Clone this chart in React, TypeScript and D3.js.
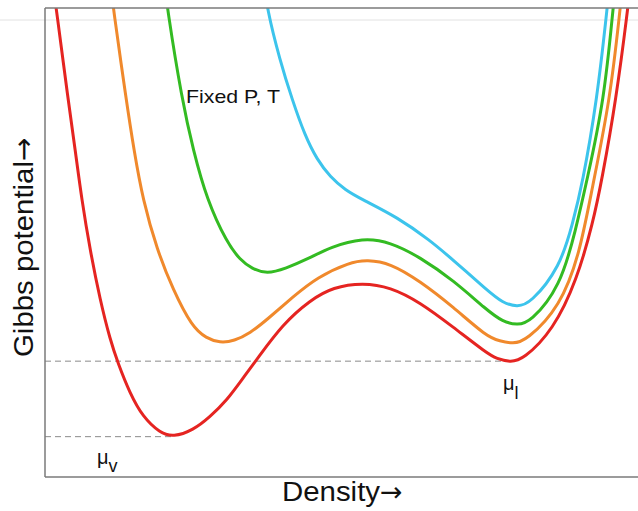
import * as d3 from 'd3';

// Gibbs potential vs density, arbitrary units (0-100 on both axes)
const redX = [1.2, 1.9, 3.9, 5.1, 6.2, 7.6, 9.3, 11.0, 12.3, 14.3, 16.5, 19.4, 21.6, 25.0, 27.8, 30.7, 33.4, 35.9, 40.1, 44.7, 48.6, 53.6, 58.2, 63.2, 68.8, 74.5, 76.2, 78.4, 80.6, 85.7, 89.7, 92.4, 93.9, 96.3, 98.3, 98.8];
const redY = [106, 100, 80.4, 69.7, 59.1, 48.4, 37.7, 29.2, 24.3, 17.9, 12.8, 9.4, 8.5, 10.0, 12.8, 16.4, 21.1, 25.4, 32.6, 37.7, 40.5, 41.4, 40.5, 37.3, 32.0, 26.4, 25.2, 24.5, 25.0, 31.3, 42.0, 54.2, 63.3, 80.4, 100, 106];

const orangeX = [11.0, 11.5, 13.7, 15.0, 16.5, 18.9, 21.6, 24.8, 27.2, 29.5, 31.9, 34.6, 37.4, 41.8, 45.9, 51.4, 54.3, 58.2, 63.2, 68.8, 74.5, 76.7, 78.9, 81.1, 86.9, 90.2, 92.2, 95.3, 97.0, 97.5];
const orangeY = [106, 100, 80.4, 69.7, 59.1, 48.4, 39.9, 32.0, 29.6, 28.6, 29.0, 30.7, 33.5, 38.4, 42.6, 45.8, 46.3, 45.6, 41.8, 36.3, 29.9, 29.0, 28.4, 29.0, 36.3, 47.8, 61.2, 80.4, 100, 106];

const greenX = [20.1, 20.6, 23.1, 25.0, 27.3, 30.7, 32.9, 34.9, 37.4, 40.5, 44.7, 48.1, 53.6, 58.2, 63.2, 68.8, 74.5, 77.2, 79.6, 81.8, 86.9, 89.5, 91.4, 94.3, 95.8, 96.3];
const greenY = [106, 100, 80.4, 69.7, 59.1, 49.9, 46.3, 44.4, 43.3, 44.4, 46.7, 49.0, 51.0, 50.1, 46.9, 42.0, 35.6, 33.1, 32.4, 32.9, 40.5, 52.7, 63.3, 80.4, 100, 106];

const blueX = [36.9, 37.4, 39.6, 41.7, 43.8, 45.9, 48.1, 50.6, 53.6, 59.4, 64.9, 68.8, 74.5, 77.2, 79.6, 81.8, 86.9, 89.0, 90.6, 93.1, 94.8, 95.3];
const blueY = [106, 100, 88.9, 80.4, 72.9, 67.6, 64.0, 61.2, 59.1, 55.4, 50.5, 46.3, 39.9, 37.1, 36.3, 36.9, 44.8, 54.2, 62.3, 80.4, 100, 106];

const seriesNames = ['red', 'orange', 'green', 'blue'];
const seriesColors = ['#e52421', '#f0892c', '#33bb22', '#3cc4ec'];

// chemical potentials of vapour and liquid (levels of the red minima)
const muV = 8.6;
const muVx = 21.6;
const muL = 24.7;
const muLx = 78.4;

const xLabel = 'Density';
const yLabel = 'Gibbs potential';
const arrow = '\u2192';
const annotation = 'Fixed P, T';

const W = 638;
const H = 511;
const left = 45;
const top = 8;
const bottom = 477;

export default function App() {
  const x = d3.scaleLinear().domain([0, 100]).range([left, W]);
  const y = d3.scaleLinear().domain([0, 100]).range([bottom, top]);

  const line = d3
    .line<[number, number]>()
    .x((d) => x(d[0]))
    .y((d) => y(d[1]))
    .curve(d3.curveBasis);

  const allX = [redX, orangeX, greenX, blueX];
  const allY = [redY, orangeY, greenY, blueY];
  const series = seriesNames.map((name, i) => ({
    name,
    color: seriesColors[i],
    points: allX[i].map((v, j) => [v, allY[i][j]] as [number, number])
  }));

  const font = "'Liberation Sans', Arial, Helvetica, sans-serif";
  const arrowFont = "'DejaVu Sans', sans-serif";

  return (
    <svg
      width={W}
      height={H}
      style={{ position: 'absolute', left: 0, top: 0, background: '#fff' }}
      fontFamily={font}
    >
      <defs>
        <clipPath id="plotArea">
          <rect x={left} y={top} width={W - left} height={bottom - top} />
        </clipPath>
      </defs>

      {/* faint guide line across the page */}
      <line x1={0} x2={W} y1={20} y2={20} stroke="#e2e2e2" strokeWidth={1} />

      {/* dashed levels */}
      <line x1={x(0)} x2={x(muVx)} y1={y(muV)} y2={y(muV)} stroke="#8a8a8a" strokeWidth={1} strokeDasharray="6,4" />
      <line x1={x(0)} x2={x(muLx)} y1={y(muL)} y2={y(muL)} stroke="#8a8a8a" strokeWidth={1} strokeDasharray="6,4" />

      <g clipPath="url(#plotArea)">
        {series.map((s) => (
          <path
            key={s.name}
            d={line(s.points) || ''}
            fill="none"
            stroke={s.color}
            strokeWidth={3}
            strokeLinejoin="round"
          />
        ))}
      </g>

      {/* frame */}
      <line x1={left} x2={left} y1={top} y2={bottom} stroke="#7a7a7a" strokeWidth={1.5} />
      <line x1={left} x2={W} y1={top} y2={top} stroke="#7a7a7a" strokeWidth={1.5} />
      <line x1={left} x2={W} y1={bottom} y2={bottom} stroke="#7a7a7a" strokeWidth={1.5} />

      <text x={186} y={103} fontSize={19} fill="#111" textLength={94} lengthAdjust="spacingAndGlyphs">
        {annotation}
      </text>

      <text x={x(muVx) - 76} y={y(muV) + 27} fontSize={20} fill="#111">
        μ<tspan fontSize={18} dy={8}>v</tspan>
      </text>
      <text x={x(muLx) - 7} y={y(muL) + 29} fontSize={20} fill="#111">
        μ<tspan fontSize={18} dy={9}>l</tspan>
      </text>

      <text x={282} y={501} fontSize={27} fill="#111" textLength={98} lengthAdjust="spacingAndGlyphs">
        {xLabel}
      </text>
      <text x={380} y={501} fontSize={27} fill="#111" fontFamily={arrowFont}>
        {arrow}
      </text>

      <g transform="rotate(-90)">
        <text x={-357} y={33} fontSize={28} fill="#111" textLength={196} lengthAdjust="spacingAndGlyphs">
          {yLabel}
        </text>
        <text x={-161} y={33} fontSize={28} fill="#111" fontFamily={arrowFont}>
          {arrow}
        </text>
      </g>
    </svg>
  );
}
